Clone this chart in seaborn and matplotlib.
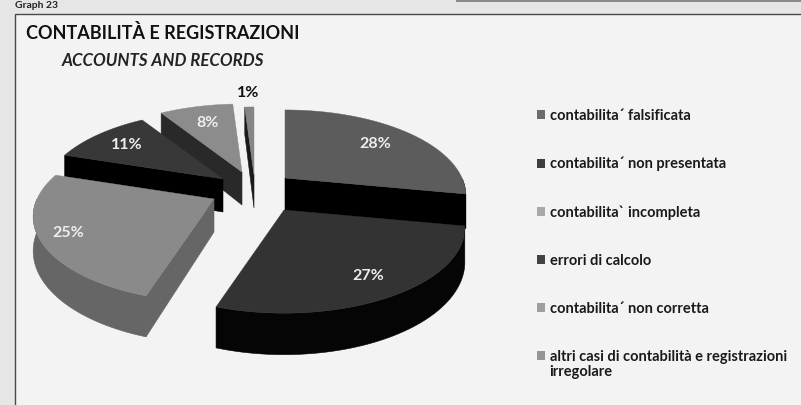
import numpy as np
import matplotlib
matplotlib.use("Agg")
import matplotlib.pyplot as plt
from matplotlib.patches import Polygon, Patch, Rectangle
import seaborn as sns

# ---- data ----
categories = ["contabilita´ falsificata", "contabilita´ non presentata",
              "contabilita` incompleta", "errori di calcolo",
              "contabilita´ non corretta",
              "altri casi di contabilità e registrazioni"]
category_tail = "irregolare"
values = [28, 27, 25, 11, 8, 1]
labels = ["28%", "27%", "25%", "11%", "8%", "1%"]

# ---- style ----
top_gray = [0.36, 0.20, 0.54, 0.22, 0.55, 0.52]
wall_gray = [0.0, 0.02, 0.40, 0.0, 0.16, 0.10]
legend_gray = [0.42, 0.24, 0.66, 0.26, 0.62, 0.58]
top_colors = [(g, g, g) for g in top_gray]
wall_colors = [(g, g, g) for g in wall_gray]
legend_colors = [(g, g, g) for g in legend_gray]

# ---- layout: perspective pie ----
RX, RY, K, DEPTH = 177.0, 82.0, 0.205, 33.0
CX, CY = 248.0, 190.0
shift_x = [37, 36, -34, -25, -6, 6]
shift_y = [-12, 20, 9, -11, -18, -15]
label_r = [0.72, 0.80, 0.85, 0.75, 0.72, 1.25]
draw_order = [5, 4, 3, 0, 2, 1]

sns.set_theme(style="white")
plt.rcParams["font.family"] = ["Lato", "DejaVu Sans"]

fig = plt.figure(figsize=(8.01, 4.05), dpi=100, facecolor="#e6e6e6")
ax = fig.add_axes([0, 0, 1, 1])
ax.set_xlim(0, 801)
ax.set_ylim(405, 0)
ax.axis("off")

ax.add_patch(Rectangle((15, 14), 800, 400, fc="#f3f3f3", ec="#4a4a4a", lw=1.0, zorder=0))
ax.add_patch(Rectangle((456, -3), 350, 5, fc="#8a8a8a", ec="none", zorder=0))
ax.text(15, 6, "Graph 23", fontsize=7.5, weight="bold", color="#222222", va="center", ha="left")


def project(apex, deg, r=1.0, drop=0.0):
    a = np.radians(deg)
    u, v = r * np.sin(a), r * np.cos(a)
    s = 1.0 / (1.0 + K * v)
    return apex[0] + RX * u * s, apex[1] - RY * v * s + drop * s


edges = np.concatenate([[0], np.cumsum(values)]) * 3.6
apexes = [(CX + dx, CY + dy) for dx, dy in zip(shift_x, shift_y)]

for i in draw_order:
    a0, a1 = edges[i], edges[i + 1]
    apex = apexes[i]
    arc = np.linspace(a0, a1, 80)
    z = 3 + draw_order.index(i)
    # rim: only the part turned towards the viewer
    vis = arc[(arc >= 90) & (arc <= 270)]
    if len(vis) > 1:
        front = [project(apex, d) for d in vis]
        back = [project(apex, d, drop=DEPTH) for d in vis[::-1]]
        ax.add_patch(Polygon(front + back, fc=wall_colors[i], ec=wall_colors[i], lw=0.4, zorder=z))
    # cut faces that look towards the viewer
    for d, facing in ((a0, 180 <= a0 < 360), (a1, 0 < a1 < 180)):
        if facing:
            face = [apex, project(apex, d), project(apex, d, drop=DEPTH),
                    project(apex, 0, r=0, drop=DEPTH)]
            ax.add_patch(Polygon(face, fc=wall_colors[i], ec=wall_colors[i], lw=0.4, zorder=z))
    # top surface
    top = [apex] + [project(apex, d) for d in arc]
    ax.add_patch(Polygon(top, fc=top_colors[i], ec=top_colors[i], lw=0.3, zorder=z + 0.5))
    # value label
    lx, ly = project(apex, (a0 + a1) / 2, r=label_r[i])
    ax.text(lx, ly, labels[i], ha="center", va="center", fontsize=11.5, weight="bold",
            color="#111111" if i == 5 else "#eeeeee", zorder=20)

ax.text(26, 33, "CONTABILITÀ E REGISTRAZIONI", fontsize=13, weight="bold", color="#111111",
        va="center", ha="left")
ax.text(62, 61, "ACCOUNTS AND RECORDS", fontsize=12.2, weight="bold", style="italic",
        color="#222222", va="center", ha="left")

handles = [Patch(fc=c, ec="none") for c in legend_colors]
ax.legend(handles, categories, loc="upper left", bbox_to_anchor=(537 / 801, 1 - 109 / 405),
          frameon=False, handlelength=0.55, handleheight=0.55, handletextpad=0.35,
          labelspacing=2.32, borderpad=0, borderaxespad=0,
          prop={"weight": "bold", "size": 10.55, "family": ["Lato", "DejaVu Sans"]},
          labelcolor="#1a1a1a")
ax.text(549, 372, category_tail, fontsize=10.55, weight="bold", color="#1a1a1a",
        va="center", ha="left")

fig.savefig("out.png", dpi=100, facecolor=fig.get_facecolor())
